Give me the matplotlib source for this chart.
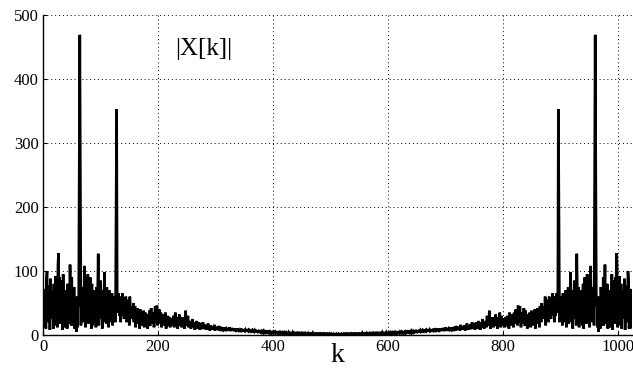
import matplotlib
matplotlib.use("Agg")
import matplotlib.pyplot as plt
import numpy as np

# |X[k]| for k = 0..512 read from the picture (spectrum of a real signal,
# so the values for k = 513..1023 are the mirror image of k = 511..1)
half_mag = [
    55, 12, 72, 30, 60, 10, 85, 100, 35, 62, 20, 78, 8, 88, 40, 70,
    25, 65, 10, 80, 15, 55, 92, 38, 70, 12, 110, 128, 45, 90, 18, 85,
    20, 75, 8, 95, 35, 60, 12, 70, 45, 55, 10, 80, 40, 65, 18, 110,
    50, 15, 90, 15, 60, 40, 75, 10, 55, 45, 5, 60, 12, 50, 45, 262,
    469, 255, 15, 60, 30, 75, 50, 20, 108, 65, 12, 85, 30, 60, 95, 18,
    70, 25, 90, 55, 10, 80, 15, 60, 45, 70, 20, 55, 12, 75, 30, 65,
    127, 15, 60, 25, 85, 40, 70, 10, 55, 20, 65, 98, 35, 60, 18, 75,
    25, 55, 12, 70, 30, 60, 20, 50, 65, 15, 55, 25, 45, 60, 20, 192,
    353, 50, 35, 65, 45, 30, 60, 20, 50, 40, 65, 30, 55, 25, 45, 35,
    60, 20, 40, 55, 30, 48, 15, 60, 35, 45, 25, 40, 30, 50, 20, 35,
    45, 12, 38, 25, 42, 18, 35, 28, 10, 40, 22, 32, 15, 30, 20, 38,
    12, 28, 35, 15, 25, 32, 10, 30, 20, 38, 14, 26, 42, 18, 30, 22,
    35, 12, 28, 45, 20, 32, 46, 15, 30, 25, 40, 18, 28, 35, 12, 26,
    22, 32, 15, 28, 20, 35, 10, 25, 18, 30, 14, 22, 28, 12, 20, 26,
    15, 24, 18, 30, 12, 22, 35, 16, 20, 28, 10, 24, 18, 32, 14, 20,
    25, 12, 18, 28, 15, 22, 10, 20, 38, 14, 24, 18, 30, 12, 20, 16,
    22, 10, 18, 14, 25, 12, 16, 20, 8, 18, 14, 22, 10, 16, 12, 20,
    14, 8, 18, 12, 16, 10, 20, 13, 9, 17, 11, 15, 8, 14, 12, 18,
    10, 13, 7, 15, 11, 9, 14, 8, 12, 10, 16, 7, 11, 13, 8, 12,
    9, 14, 7, 11, 10, 13, 6, 12, 9, 8, 11, 7, 12, 9, 10, 6,
    11, 8, 10, 7, 12, 9, 6, 10, 8, 11, 7, 9, 6, 10, 8, 7,
    9, 6, 10, 8, 7, 9, 5, 8, 7, 10, 6, 8, 5, 9, 7, 6,
    8, 6, 9, 5, 7, 8, 6, 7, 5, 8, 6, 7, 4, 7, 6, 5,
    7, 5, 8, 6, 4, 7, 5, 6, 4, 7, 5, 6, 4, 5, 6, 4,
    6, 4, 5, 7, 4, 5, 3, 6, 4, 5, 3, 5, 4, 6, 3, 4,
    5, 3, 4, 5, 3, 4, 2, 5, 3, 4, 3, 4, 2, 4, 3, 3,
    4, 2, 3, 4, 2, 3, 4, 2, 3, 3, 2, 4, 2, 3, 2, 3,
    3, 2, 4, 2, 3, 2, 3, 2, 2, 3, 2, 3, 1, 2, 3, 2,
    2, 3, 1, 2, 3, 2, 2, 1, 3, 2, 2, 1, 2, 3, 1, 2,
    2, 1, 2, 2, 1, 3, 1, 2, 2, 1, 2, 1, 2, 2, 1, 2,
    1, 2, 2, 1, 2, 1, 1, 2, 1, 2, 1, 1, 2, 1, 1, 2,
    1, 1, 2, 1, 1, 2, 1, 1, 1, 2, 1, 1, 1, 1, 2, 1,
    1,
]
x_ticks = [0, 200, 400, 600, 800, 1000]
y_ticks = [0, 100, 200, 300, 400, 500]

magnitude = list(half_mag) + list(half_mag[-2:0:-1])
k = np.arange(len(magnitude))

plt.rcParams['font.family'] = ['Liberation Serif', 'DejaVu Serif']

fig = plt.figure(figsize=(6.33, 3.70), dpi=100)
ax = fig.add_axes([43 / 633, 1 - 335 / 370, 589 / 633, 320 / 370])

ax.plot(k, magnitude, color='black', linewidth=1.9, solid_joinstyle='miter')

ax.set_xlim(0, 1024)
ax.set_ylim(0, 500)
ax.set_xticks(x_ticks)
ax.set_yticks(y_ticks)
ax.tick_params(direction='in', length=3, labelsize=12, pad=3, colors='black')
ax.grid(True, color='black', linestyle=(0, (1, 3)), linewidth=0.7)
ax.set_axisbelow(True)
for side in ['top', 'right']:
    ax.spines[side].set_visible(False)
for side in ['left', 'bottom']:
    ax.spines[side].set_linewidth(1.0)

ax.set_xlabel('k', fontsize=20, labelpad=-9)
ax.text(0.225, 0.895, '|X[k]|', transform=ax.transAxes, fontsize=18,
        ha='left', va='center')

fig.savefig('out.png', dpi=100)
